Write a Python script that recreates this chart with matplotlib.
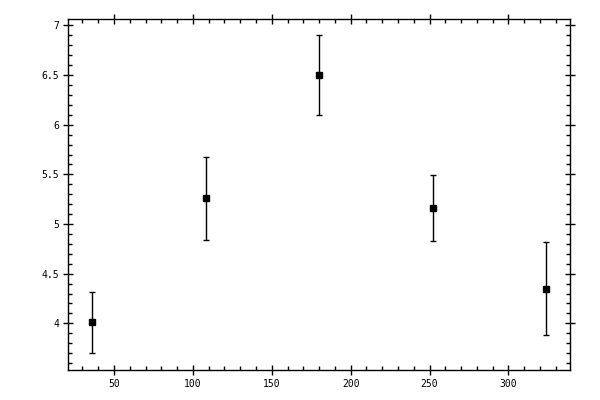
import matplotlib
matplotlib.use("Agg")
import matplotlib.pyplot as plt
from matplotlib.ticker import MultipleLocator, FormatStrFormatter

# data
x_vals = [36, 108, 180, 252, 324]
y_vals = [4.01, 5.26, 6.50, 5.16, 4.35]
y_err = [0.305, 0.42, 0.40, 0.335, 0.465]

plt.rcParams['font.family'] = ['DejaVu Sans Mono']

fig = plt.figure(figsize=(6, 4), dpi=100)
ax = fig.add_axes([0.1133, 0.075, 0.8367, 0.8775])

ax.errorbar(x_vals, y_vals, yerr=y_err, fmt='s', color='black',
            markersize=5, elinewidth=1, capsize=2, capthick=1)

ax.set_xlim(20.8, 339)
ax.set_ylim(3.53, 7.065)

ax.xaxis.set_major_locator(MultipleLocator(50))
ax.xaxis.set_minor_locator(MultipleLocator(10))
ax.yaxis.set_major_locator(MultipleLocator(0.5))
ax.yaxis.set_minor_locator(MultipleLocator(0.1))
ax.yaxis.set_major_formatter(FormatStrFormatter('%g'))

ax.tick_params(which='major', direction='inout', length=6.5, width=1,
               top=True, right=True, labelsize=7, pad=3)
ax.tick_params(which='minor', direction='in', length=3, width=1,
               top=True, right=True)

for s in ax.spines.values():
    s.set_linewidth(1)

fig.savefig('out.png', dpi=100)
